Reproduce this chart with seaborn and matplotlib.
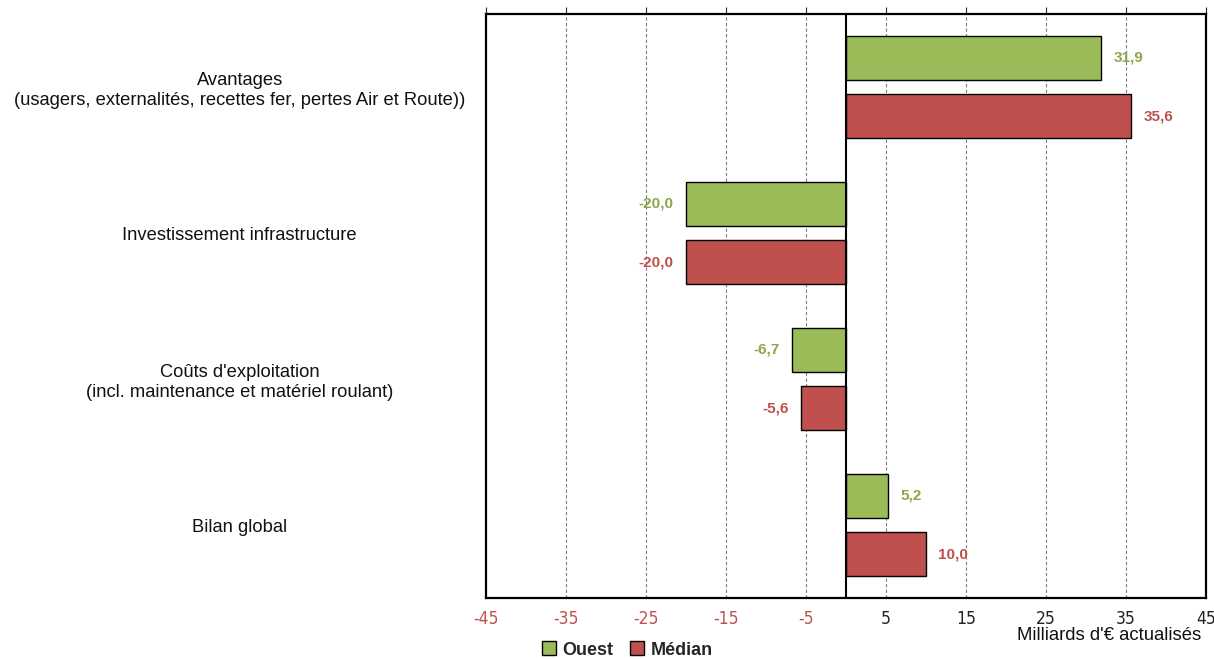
import matplotlib
matplotlib.use("Agg")
import matplotlib.pyplot as plt
import seaborn as sns
import pandas as pd
from matplotlib.patches import Patch

categories = [
    "Avantages\n(usagers, externalités, recettes fer, pertes Air et Route))",
    "Investissement infrastructure",
    "Coûts d'exploitation\n(incl. maintenance et matériel roulant)",
    "Bilan global",
]
ouest = [31.9, -20.0, -6.7, 5.2]
median = [35.6, -20.0, -5.6, 10.0]
series = ["Ouest", "Médian"]
ticks = [-45, -35, -25, -15, -5, 5, 15, 25, 35, 45]

bar_colors = {"Ouest": "#9BBB59", "Médian": "#C0504D"}
text_colors = {"Ouest": "#8CA64C", "Médian": "#C0504D"}

df = pd.DataFrame({
    "categorie": categories * 2,
    "valeur": ouest + median,
    "scenario": ["Ouest"] * len(categories) + ["Médian"] * len(categories),
})

sns.set_theme(style="white")
plt.rcParams["font.family"] = ["Liberation Sans", "DejaVu Sans"]

fig = plt.figure(figsize=(12.14, 6.59), dpi=100)
ax = fig.add_axes([486 / 1214, 1 - 598 / 659, 720 / 1214, 584 / 659])

sns.barplot(data=df, y="categorie", x="valeur", hue="scenario", orient="h",
            palette=bar_colors, hue_order=series, gap=0.25, width=0.8,
            edgecolor="black", linewidth=1, saturation=1, legend=False, ax=ax)

ax.set_xlim(-45, 45)
ax.set_xticks(ticks)
ax.set_xticklabels([str(t) for t in ticks], fontsize=12.5,
                   family=["Liberation Sans Narrow", "DejaVu Sans"],
                   fontstretch="condensed")
for lab, t in zip(ax.get_xticklabels(), ticks):
    lab.set_color("#C0504D" if t < 0 else "#222222")
ax.tick_params(axis="x", length=0, pad=9)
# small marks above the top frame at each grid position
ax.tick_params(axis="x", which="major", top=True, labeltop=False)
for tl in ax.xaxis.get_ticklines():
    pass
ax.xaxis.set_tick_params(which="major", top=True)
for t in ax.xaxis.get_major_ticks():
    t.tick2line.set_markersize(5)
    t.tick2line.set_color("#9A9A9A")
    t.tick2line.set_markeredgewidth(0.8)
ax.tick_params(axis="y", length=0)
ax.set_yticklabels(categories, fontsize=13.2, color="#111111")
for lab in ax.get_yticklabels():
    lab.set_horizontalalignment("center")
    lab.set_multialignment("center")
    lab.set_x(-0.342)
    lab.set_transform(ax.get_yaxis_transform())

ax.set_xlabel("")
ax.set_ylabel("")
for x in ticks[1:-1]:
    ax.axvline(x, color="#7F7F7F", lw=0.8, ls=(0, (3, 2)), zorder=0)
ax.axvline(0, color="black", lw=1.5, zorder=3)
for s in ax.spines.values():
    s.set_color("black")
    s.set_linewidth(1.6)

for cont, name in zip(ax.containers, series):
    vals = ouest if name == "Ouest" else median
    ax.bar_label(cont, labels=[f"{v:.1f}".replace(".", ",") for v in vals],
                 padding=9, fontsize=11, fontweight="bold",
                 color=text_colors[name])

fig.text(1201 / 1214, 1 - 635 / 659, "Milliards d'€ actualisés",
         ha="right", va="center", fontsize=13.3, color="#111111")

handles = [Patch(facecolor=bar_colors[s], edgecolor="black", linewidth=1, label=s)
           for s in series]
fig.legend(handles=handles, loc="center", bbox_to_anchor=(627 / 1214, 1 - 650 / 659),
           ncol=2, frameon=False, handlelength=0.8, handleheight=0.8,
           handletextpad=0.35, columnspacing=0.9,
           prop={"weight": "bold", "size": 13})

fig.savefig("out.png", dpi=100)
